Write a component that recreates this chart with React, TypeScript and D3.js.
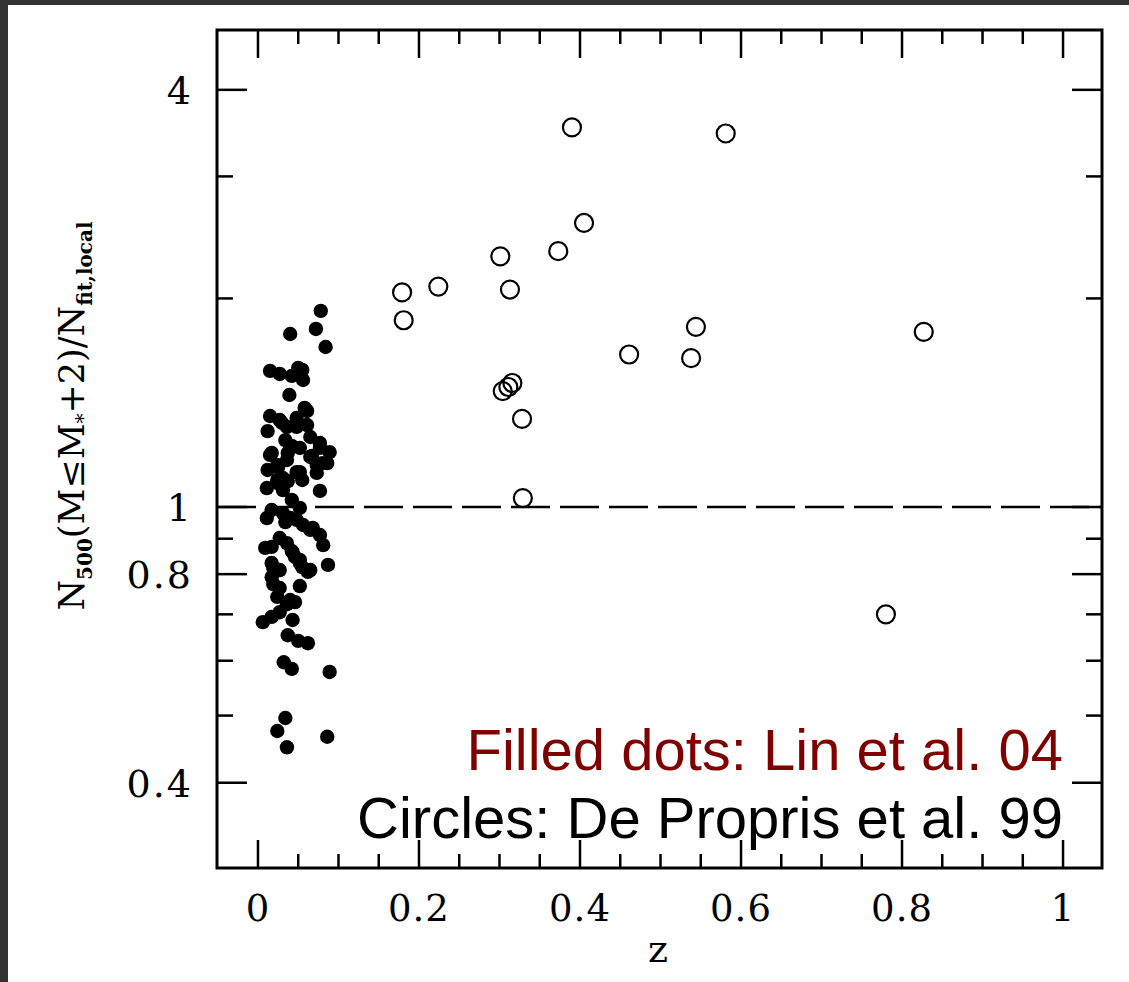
import React, { useRef, useEffect } from 'react';
import * as d3 from 'd3';

// Lin et al. 04 (filled dots)
const filledZ = [
  0.078, 0.072, 0.040, 0.084, 0.015, 0.027, 0.042, 0.050, 0.056, 0.039,
  0.061, 0.015, 0.030, 0.048, 0.012, 0.065, 0.034, 0.042, 0.017, 0.052,
  0.077, 0.089, 0.037, 0.067, 0.036, 0.065, 0.080, 0.012, 0.025, 0.048,
  0.073, 0.024, 0.037, 0.055, 0.011, 0.077, 0.031, 0.042, 0.052, 0.017,
  0.031, 0.011, 0.048, 0.056, 0.065, 0.034, 0.077, 0.081, 0.027, 0.017,
  0.036, 0.042, 0.009, 0.046, 0.052, 0.017, 0.027, 0.065, 0.087, 0.055,
  0.017, 0.019, 0.052, 0.024, 0.036, 0.046, 0.027, 0.017, 0.006, 0.043,
  0.037, 0.050, 0.062, 0.032, 0.042, 0.089, 0.034, 0.024, 0.036, 0.086,
  0.027, 0.048, 0.036, 0.061, 0.077, 0.040, 0.015, 0.024, 0.031, 0.052,
  0.073, 0.086, 0.024, 0.040, 0.068, 0.043, 0.052, 0.019, 0.062, 0.027,
  0.040, 0.055, 0.058,
];
const filledRatio = [
  1.919, 1.807, 1.777, 1.702, 1.572, 1.556, 1.546, 1.588, 1.525, 1.451,
  1.376, 1.353, 1.322, 1.305, 1.287, 1.262, 1.249, 1.225, 1.197, 1.217,
  1.217, 1.200, 1.197, 1.185, 1.169, 1.181, 1.157, 1.131, 1.142, 1.123,
  1.120, 1.094, 1.090, 1.094, 1.065, 1.055, 1.058, 1.024, 0.997, 0.990,
  0.980, 0.964, 0.958, 0.942, 0.927, 0.951, 0.911, 0.881, 0.902, 0.876,
  0.887, 0.864, 0.873, 0.847, 0.830, 0.830, 0.811, 0.811, 0.825, 0.819,
  0.792, 0.774, 0.769, 0.742, 0.724, 0.729, 0.705, 0.694, 0.682, 0.687,
  0.653, 0.641, 0.636, 0.597, 0.584, 0.578, 0.496, 0.475, 0.450, 0.466,
  1.335, 1.344, 1.305, 1.313, 1.237, 1.217, 1.189, 1.150, 1.101, 1.123,
  1.150, 1.157, 1.083, 0.964, 0.933, 0.861, 0.839, 0.817, 0.806, 0.764,
  0.734, 1.577, 1.390,
];

// De Propris et al. 99 (open circles)
const openZ = [
  0.390, 0.581, 0.405, 0.373, 0.301, 0.224, 0.179, 0.313, 0.181, 0.544,
  0.461, 0.538, 0.316, 0.304, 0.311, 0.328, 0.329, 0.827, 0.780,
];
const openRatio = [
  3.53, 3.46, 2.57, 2.34, 2.30, 2.08, 2.04, 2.06, 1.86, 1.82,
  1.66, 1.64, 1.51, 1.47, 1.49, 1.34, 1.03, 1.79, 0.70,
];

const xMajor = [0, 0.2, 0.4, 0.6, 0.8, 1];
const xMinor = d3.range(0, 21).map((i) => i * 0.05).filter((v) => Math.round(v * 100) % 20 !== 0);
const yMajor = [0.4, 0.8, 1, 4];
const yMajorLabels = ['0.4', '0.8', '1', '4'];
const yMinor = [0.5, 0.6, 0.7, 0.9, 2, 3];

const App = () => {
  const ref = useRef(null);

  useEffect(() => {
    document.body.style.margin = '0';
    const svg = d3.select(ref.current);
    svg.selectAll('*').remove();

    const left = 217, right = 1102, top = 30, bottom = 868;
    const x = d3.scaleLinear().domain([-0.0509, 1.0484]).range([left, right]);
    const y = d3.scaleLog().domain([0.3013, 4.88]).range([bottom, top]);

    svg.append('rect').attr('width', 1129).attr('height', 982).attr('fill', '#333333');
    svg.append('rect').attr('x', 8).attr('y', 5).attr('width', 1121).attr('height', 977).attr('fill', '#fff');

    const font = "'DejaVu Serif', serif";
    const majorLen = 28, minorLen = 14;
    const g = svg.append('g').attr('stroke', '#000').attr('stroke-width', 2.5);

    // x ticks, bottom and top
    const xt = (vals, len) => {
      vals.forEach((v) => {
        g.append('line').attr('x1', x(v)).attr('x2', x(v)).attr('y1', bottom).attr('y2', bottom - len);
        g.append('line').attr('x1', x(v)).attr('x2', x(v)).attr('y1', top).attr('y2', top + len);
      });
    };
    xt(xMajor, majorLen);
    xt(xMinor, minorLen);

    const yt = (vals, len) => {
      vals.forEach((v) => {
        g.append('line').attr('x1', left).attr('x2', left + len).attr('y1', y(v)).attr('y2', y(v));
        g.append('line').attr('x1', right).attr('x2', right - len).attr('y1', y(v)).attr('y2', y(v));
      });
    };
    yt(yMajor, majorLen + 2);
    yt(yMinor, minorLen + 2);

    // dashed line at 1
    svg.append('line')
      .attr('x1', left).attr('x2', right)
      .attr('y1', y(1)).attr('y2', y(1))
      .attr('stroke', '#000').attr('stroke-width', 2.5)
      .attr('stroke-dasharray', '39 10');

    // frame
    svg.append('rect')
      .attr('x', left).attr('y', top)
      .attr('width', right - left).attr('height', bottom - top)
      .attr('fill', 'none').attr('stroke', '#000').attr('stroke-width', 3);

    // tick labels
    svg.append('g').selectAll('text')
      .data(xMajor)
      .enter()
      .append('text')
      .attr('x', (d) => x(d))
      .attr('y', 921)
      .attr('text-anchor', 'middle')
      .attr('font-family', font)
      .attr('font-size', 37)
      .attr('letter-spacing', 1)
      .text((d) => String(d));

    svg.append('g').selectAll('text')
      .data(yMajor)
      .enter()
      .append('text')
      .attr('x', 193)
      .attr('y', (d) => y(d) + 14)
      .attr('text-anchor', 'end')
      .attr('font-family', font)
      .attr('font-size', 38)
      .attr('letter-spacing', 2)
      .text((d, i) => yMajorLabels[i]);

    svg.append('text')
      .attr('x', 658)
      .attr('y', 962)
      .attr('text-anchor', 'middle')
      .attr('font-family', font)
      .attr('font-size', 38)
      .text('z');

    // y title
    const yt2 = svg.append('text')
      .attr('transform', 'translate(84,416) rotate(-90)')
      .attr('text-anchor', 'middle')
      .attr('font-family', font)
      .attr('font-size', 35);
    yt2.append('tspan').text('N');
    yt2.append('tspan').attr('dy', 8).attr('font-size', 20).attr('font-weight', 'bold').text('500');
    yt2.append('tspan').attr('dy', -8).text('(M≤M');
    yt2.append('tspan').attr('dy', 6).attr('font-size', 20).text('*');
    yt2.append('tspan').attr('dy', -6).text('+2)/N');
    yt2.append('tspan').attr('dy', 8).attr('font-size', 20).attr('font-weight', 'bold').text('fit,local');

    // points
    svg.append('g').selectAll('circle')
      .data(filledZ)
      .enter()
      .append('circle')
      .attr('cx', (d) => x(d))
      .attr('cy', (d, i) => y(filledRatio[i]))
      .attr('r', 7.2)
      .attr('fill', '#000');

    svg.append('g').selectAll('circle')
      .data(openZ)
      .enter()
      .append('circle')
      .attr('cx', (d) => x(d))
      .attr('cy', (d, i) => y(openRatio[i]))
      .attr('r', 9)
      .attr('fill', 'none')
      .attr('stroke', '#000')
      .attr('stroke-width', 2.2);

    // legend
    const sans = "'Liberation Sans', Arial, sans-serif";
    svg.append('text')
      .attr('x', 1063).attr('y', 770)
      .attr('text-anchor', 'end')
      .attr('font-family', sans).attr('font-size', 58)
      .attr('fill', '#800000')
      .text('Filled dots: Lin et al. 04');
    svg.append('text')
      .attr('x', 1063).attr('y', 838)
      .attr('text-anchor', 'end')
      .attr('font-family', sans).attr('font-size', 58)
      .attr('fill', '#000')
      .text('Circles: De Propris et al. 99');
  }, []);

  return (
    <svg ref={ref} width="1129" height="982" style={{ position: 'absolute', left: 0, top: 0, display: 'block' }}></svg>
  );
};

export default App;
